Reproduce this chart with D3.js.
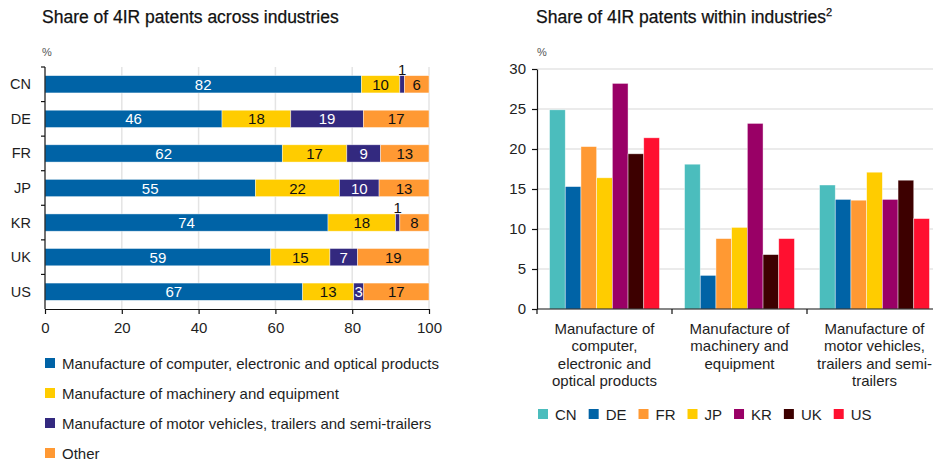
<!DOCTYPE html>
<html>
<head>
<meta charset="utf-8">
<script src="https://cdn.jsdelivr.net/npm/d3@7"></script>
<style>
  body { margin: 0; background: #fff; }
  text { font-family: "Liberation Sans", Arial, sans-serif; }
</style>
</head>
<body>
<div id="chart"></div>
<script>
(function(){
    var width = 933, height = 463;

    // left chart data: share of 4IR patents across industries (labels shown rounded)
    var countries = ["CN", "DE", "FR", "JP", "KR", "UK", "US"];
    var sectors = [
        "Manufacture of computer, electronic and optical products",
        "Manufacture of machinery and equipment",
        "Manufacture of motor vehicles, trailers and semi-trailers",
        "Other"
    ];
    var computerShare = [82.4, 46.1, 61.8, 54.8, 73.7, 58.8, 67.1];
    var machineryShare = [10.0, 17.9, 16.8, 21.9, 17.6, 15.4, 13.3];
    var vehicleShare = [1.2, 18.9, 8.8, 10.3, 1.1, 7.2, 2.6];
    var otherShare = [6.4, 17.1, 12.6, 13.0, 7.6, 18.6, 17.0];
    var sectorColors = ["#0063a6", "#ffcc00", "#33297f", "#ff9933"];
    var leftTicks = [0, 20, 40, 60, 80, 100];

    // right chart data: share of 4IR patents within industries
    var industries = [
        ["Manufacture of", "computer,", "electronic and", "optical products"],
        ["Manufacture of", "machinery and", "equipment"],
        ["Manufacture of", "motor vehicles,", "trailers and semi-", "trailers"]
    ];
    var withinCN = [24.9, 18.1, 15.5];
    var withinDE = [15.3, 4.2, 13.7];
    var withinFR = [20.3, 8.8, 13.6];
    var withinJP = [16.4, 10.2, 17.1];
    var withinKR = [28.2, 23.2, 13.7];
    var withinUK = [19.4, 6.8, 16.1];
    var withinUS = [21.4, 8.8, 11.3];
    var countryColors = ["#4bbdbd", "#0063a6", "#ff9933", "#ffcc00", "#990066", "#3d0000", "#ff1030"];
    var rightTicks = [0, 5, 10, 15, 20, 25, 30];

    var svg = d3.select("#chart").append("svg")
        .attr("width", width)
        .attr("height", height);

    var grid = "#e4e4e4", ink = "#1e1e1e";
    var fmt = d3.format(".0f");

    // ---------- left chart ----------
    var left = svg.append("g");
    left.append("text").attr("x", 42).attr("y", 23)
        .attr("font-size", 17.5).attr("fill", "#111")
        .attr("stroke", "#111").attr("stroke-width", 0.25)
        .text("Share of 4IR patents across industries");
    left.append("text").attr("x", 42).attr("y", 56)
        .attr("font-size", 11).attr("fill", "#555").text("%");

    var x = d3.scaleLinear().domain([0, 100]).range([45, 429]);
    var y = d3.scaleBand().domain(countries).range([67, 309])
        .paddingInner(0.5).paddingOuter(0.25);

    left.selectAll(".vgrid").data(leftTicks.slice(1)).enter().append("line")
        .attr("x1", d => x(d)).attr("x2", d => x(d))
        .attr("y1", 67).attr("y2", 309)
        .attr("stroke", grid).attr("stroke-width", 1.5);

    var rows = countries.map(function(c, i){
        var vals = [computerShare[i], machineryShare[i], vehicleShare[i], otherShare[i]];
        var acc = 0;
        return vals.map(function(v, k){
            var seg = {country: c, k: k, v: v, x0: acc, x1: acc + v};
            acc += v;
            return seg;
        });
    });
    var segs = [].concat.apply([], rows);

    left.selectAll(".seg").data(segs).enter().append("rect")
        .attr("x", d => x(d.x0))
        .attr("width", d => Math.max(0, Math.min(x(d.x1), x(100)) - x(d.x0)))
        .attr("y", d => y(d.country))
        .attr("height", y.bandwidth())
        .attr("fill", d => sectorColors[d.k])
        .attr("stroke", "rgba(255,255,255,0.6)").attr("stroke-width", 0.7);

    left.selectAll(".seglab").data(segs).enter().append("text")
        .attr("x", d => x((d.x0 + Math.min(d.x1, 100)) / 2))
        .attr("y", d => d.v < 2 ? y(d.country) - 1 : y(d.country) + y.bandwidth() / 2 + 5.5)
        .attr("text-anchor", "middle")
        .attr("font-size", 15)
        .attr("fill", d => (d.k === 0 || d.k === 2) && d.v >= 2 ? "#fff" : "#111")
        .text(d => fmt(d.v));

    // y axis with band-boundary ticks
    left.append("line").attr("x1", 45).attr("x2", 45).attr("y1", 67).attr("y2", 309)
        .attr("stroke", "#111").attr("stroke-width", 1.2);
    left.selectAll(".ytick").data(d3.range(countries.length)).enter().append("line")
        .attr("x1", 41).attr("x2", 45)
        .attr("y1", i => 67 + i * y.step()).attr("y2", i => 67 + i * y.step())
        .attr("stroke", "#111").attr("stroke-width", 1.2);
    left.selectAll(".ylab").data(countries).enter().append("text")
        .attr("x", 31).attr("y", d => y(d) + y.bandwidth() / 2 + 5)
        .attr("text-anchor", "end").attr("font-size", 14.5).attr("fill", ink)
        .text(d => d);

    // x axis
    var xAxis = left.append("g").attr("transform", "translate(0,309)")
        .call(d3.axisBottom(x).tickValues(leftTicks).tickSize(5).tickSizeOuter(0));
    xAxis.select(".domain").attr("stroke", "#111").attr("stroke-width", 1.2);
    xAxis.selectAll(".tick line").attr("stroke", "#111").attr("stroke-width", 1.2);
    xAxis.selectAll(".tick text").attr("font-size", 15).attr("fill", ink)
        .attr("font-family", "Liberation Sans, Arial, sans-serif").attr("dy", "1.05em");

    // left legend
    var lg = left.selectAll(".lleg").data(sectors).enter().append("g")
        .attr("transform", (d, i) => "translate(45," + (358 + i * 30) + ")");
    lg.append("rect").attr("width", 10).attr("height", 10)
        .attr("fill", (d, i) => sectorColors[i]);
    lg.append("text").attr("x", 17).attr("y", 10.5)
        .attr("font-size", 15).attr("fill", ink).text(d => d);

    // ---------- right chart ----------
    var right = svg.append("g");
    var title2 = right.append("text").attr("x", 536).attr("y", 23)
        .attr("font-size", 17.5).attr("fill", "#111")
        .attr("stroke", "#111").attr("stroke-width", 0.25)
        .text("Share of 4IR patents within industries");
    title2.append("tspan").attr("font-size", 11).attr("dy", -7).text("2");
    right.append("text").attr("x", 537).attr("y", 56)
        .attr("font-size", 11).attr("fill", "#555").text("%");

    var series = [withinCN, withinDE, withinFR, withinJP, withinKR, withinUK, withinUS];
    var y2 = d3.scaleLinear().domain([0, 30]).range([309, 69]);
    var x0 = d3.scaleBand().domain(d3.range(industries.length)).range([537, 942]);
    var x1 = d3.scaleBand().domain(countries).range([0, x0.bandwidth()])
        .paddingInner(0).paddingOuter(0.8);

    right.selectAll(".hgrid").data(rightTicks.slice(1)).enter().append("line")
        .attr("x1", 537).attr("x2", width)
        .attr("y1", d => y2(d)).attr("y2", d => y2(d))
        .attr("stroke", grid).attr("stroke-width", 1.5);

    var bars = [];
    industries.forEach(function(ind, g){
        countries.forEach(function(c, k){
            bars.push({g: g, c: c, k: k, v: series[k][g]});
        });
    });
    right.selectAll(".bar").data(bars).enter().append("rect")
        .attr("x", d => x0(d.g) + x1(d.c))
        .attr("width", x1.bandwidth())
        .attr("y", d => y2(d.v))
        .attr("height", d => y2(0) - y2(d.v))
        .attr("fill", d => countryColors[d.k])
        .attr("stroke", "rgba(255,255,255,0.6)").attr("stroke-width", 0.7);

    var yAxis = right.append("g").attr("transform", "translate(537,0)")
        .call(d3.axisLeft(y2).tickValues(rightTicks).tickSize(5).tickSizeOuter(0));
    yAxis.select(".domain").attr("stroke", "#111").attr("stroke-width", 1.2);
    yAxis.selectAll(".tick line").attr("stroke", "#111").attr("stroke-width", 1.2);
    yAxis.selectAll(".tick text").attr("font-size", 15).attr("fill", ink)
        .attr("font-family", "Liberation Sans, Arial, sans-serif").attr("x", -11);

    right.append("line").attr("x1", 537).attr("x2", width)
        .attr("y1", 309).attr("y2", 309).attr("stroke", "#111").attr("stroke-width", 1.2);
    right.selectAll(".gtick").data(d3.range(industries.length + 1)).enter().append("line")
        .attr("x1", g => 537 + g * x0.step()).attr("x2", g => 537 + g * x0.step())
        .attr("y1", 309).attr("y2", 314)
        .attr("stroke", "#111").attr("stroke-width", 1.2);

    var cats = right.selectAll(".cat").data(industries).enter().append("text")
        .attr("text-anchor", "middle").attr("font-size", 15).attr("fill", ink);
    cats.selectAll("tspan").data((d, g) => d.map(line => ({line: line, g: g}))).enter()
        .append("tspan")
        .attr("x", d => x0(d.g) + x0.bandwidth() / 2)
        .attr("y", (d, i) => 334 + i * 17.3)
        .text(d => d.line);

    // right legend
    var rx = 538;
    countries.forEach(function(c, k){
        var item = right.append("g").attr("transform", "translate(" + rx + ",409)");
        item.append("rect").attr("width", 10).attr("height", 10).attr("fill", countryColors[k]);
        var t = item.append("text").attr("x", 17).attr("y", 10.5)
            .attr("font-size", 15).attr("fill", ink).text(c);
        rx += 17 + t.node().getComputedTextLength() + 12;
    });
})();
</script>
</body>
</html>
